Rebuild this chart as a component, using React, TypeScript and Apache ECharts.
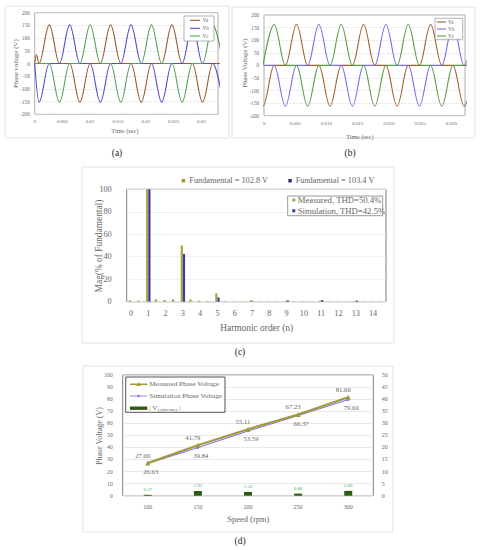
import { useEffect, useRef } from 'react';
import * as echarts from 'echarts';

const SERIF = "'Liberation Serif', 'Times New Roman', serif";
const GRAY = '#666666';

// ---------- (a) measured phase voltages: breakpoints [time (s), voltage (V)]
const vaA: number[][] = [
  [0, 0], [0.0003, 34], [0.00078, 0], [0.00262, 152], [0.00446, 0],
  [0.0063, 0], [0.00814, -152], [0.00998, 0],
  [0.01182, 0], [0.01366, 152], [0.0155, 0],
  [0.01734, 0], [0.01918, -152], [0.02102, 0],
  [0.02286, 0], [0.0247, 152], [0.02654, 0],
  [0.02838, 0], [0.03022, -152], [0.03206, 0],
  [0.0339, 0],
];
const vbA: number[][] = [
  [0, 0], [0.00078, -152], [0.00262, 0],
  [0.00446, 0], [0.0063, 152], [0.00814, 0],
  [0.00998, 0], [0.01182, -152], [0.01366, 0],
  [0.0155, 0], [0.01734, 152], [0.01918, 0],
  [0.02102, 0], [0.02286, -152], [0.0247, 0],
  [0.02654, 0], [0.02838, 152], [0.03022, 0],
  [0.03206, 0], [0.0339, -152],
];
const vcA: number[][] = [
  [0, 0], [0.00262, 0], [0.00446, -152], [0.0063, 0],
  [0.00814, 0], [0.00998, 152], [0.01182, 0],
  [0.01366, 0], [0.0155, -152], [0.01734, 0],
  [0.01918, 0], [0.02102, 152], [0.02286, 0],
  [0.0247, 0], [0.02654, -152], [0.02838, 0],
  [0.03022, 0], [0.03206, 152], [0.0339, 0],
];

// ---------- (b) simulated phase voltages
const vaB: number[][] = [
  [-0.00195, 0], [-0.00016, -162], [0.00163, 0],
  [0.00342, 0], [0.00521, 162], [0.007, 0],
  [0.00879, 0], [0.01058, -162], [0.01237, 0],
  [0.01416, 0], [0.01595, 162], [0.01774, 0],
  [0.01953, 0], [0.02132, -162], [0.02311, 0],
  [0.0249, 0], [0.02669, 162], [0.02848, 0],
  [0.03027, 0], [0.03206, -162], [0.03385, 0],
];
const vbB: number[][] = [
  [0, 0], [0.00163, 0], [0.00342, -162], [0.00521, 0],
  [0.007, 0], [0.00879, 162], [0.01058, 0],
  [0.01237, 0], [0.01416, -162], [0.01595, 0],
  [0.01774, 0], [0.01953, 162], [0.02132, 0],
  [0.02311, 0], [0.0249, -162], [0.02669, 0],
  [0.02848, 0], [0.03027, 162], [0.03206, 0],
  [0.0339, 0],
];
const vcB: number[][] = [
  [-0.00016, 0], [0.00163, 162], [0.00342, 0],
  [0.00521, 0], [0.007, -162], [0.00879, 0],
  [0.01058, 0], [0.01237, 162], [0.01416, 0],
  [0.01595, 0], [0.01774, -162], [0.01953, 0],
  [0.02132, 0], [0.02311, 162], [0.0249, 0],
  [0.02669, 0], [0.02848, -162], [0.03027, 0],
  [0.03206, 0], [0.03385, 162],
];
const phaseNames = ['Va', 'Vb', 'Vc'];

// ---------- (c) harmonic spectrum (% of fundamental)
const harmonicCats = [
  '0', '0.5', '1', '1.5', '2', '2.5', '3', '3.5', '4', '4.5', '5', '5.5', '6', '6.5', '7',
  '7.5', '8', '8.5', '9', '9.5', '10', '10.5', '11', '11.5', '12', '12.5', '13', '13.5', '14', '14.5',
];
const measuredHarm = [
  1.2, 0.9, 100, 2.1, 1.5, 2.1, 50, 2.1, 0.9, 0.6, 7.4, 0.4, 0.3, 0.3, 1.5,
  0.3, 0.3, 0.3, 0.5, 0.3, 0.3, 0.3, 1.0, 0.3, 0.3, 0.3, 0.4, 0.3, 0.3, 0.3,
];
const simHarm = [
  0, 0, 100, 0, 0, 0, 42.5, 0, 0, 0, 3.8, 0, 0, 0, 0.3,
  0, 0, 0, 1.2, 0, 0, 0, 1.4, 0, 0, 0, 1.0, 0, 0, 0,
];
const fundamentalTexts = ['Fundamental = 102.8 V', 'Fundamental = 103.4 V'];
const thdTexts = ['Measured, THD=50.4%', 'Simulation, THD=42.5%'];

// ---------- (d) phase voltage vs speed
const speeds = ['100', '150', '200', '250', '300'];
const measuredPhaseV = [27.0, 41.79, 55.11, 67.23, 81.6];
const simPhaseV = [26.63, 39.84, 53.59, 66.37, 79.6];
const diffV = [0.37, 1.95, 1.52, 0.86, 2.0];

const colA = ['#9A5A30', '#5050C8', '#5AA05A'];
const colB = ['#A0602A', '#7B6BE6', '#5A9A48'];
const GOLD = '#ADA03C';
const NAVY = '#3A3AA0';
const OLIVE = '#A09A3C';
const PURPLE = '#7B68EE';
const DKGREEN = '#2E5B12';

function txt(text: string, x: number, y: number, size: number, o: any = {}) {
  return {
    type: 'text', x, y, rotation: o.rot || 0, z: 101,
    style: {
      text, fontSize: size, fontFamily: SERIF, fill: o.color || GRAY,
      align: o.align || 'center', verticalAlign: 'middle', rich: o.rich,
    },
  };
}
function rect(x: number, y: number, w: number, h: number, fill: string, stroke: string | null, lw = 0.8, z = 100) {
  return { type: 'rect', z, shape: { x, y, width: w, height: h }, style: { fill, stroke: stroke || undefined, lineWidth: stroke ? lw : 0 } };
}
function seg(x1: number, y1: number, x2: number, y2: number, stroke: string, lw: number) {
  return { type: 'line', z: 101, shape: { x1, y1, x2, y2 }, style: { stroke, lineWidth: lw } };
}

function wave(data: number[][], color: string, idx: number, name: string) {
  return {
    type: 'line', name, xAxisIndex: idx, yAxisIndex: idx, data, showSymbol: false, symbol: 'none',
    smooth: 0.36, smoothMonotone: 'x', clip: true, silent: true,
    lineStyle: { color, width: 1.1 }, itemStyle: { color }, z: 2,
  };
}

export default function App() {
  const ref = useRef<HTMLDivElement>(null);
  useEffect(() => {
    if (!ref.current) return;
    const chart = echarts.init(ref.current, undefined, { renderer: 'svg' });
    const tickLabel = (size: number, margin: number, extra: any = {}) => ({
      fontSize: size, color: GRAY, fontFamily: SERIF, margin, ...extra,
    });
    const noLine = { show: false };

    const graphic: any[] = [
      // outer boxes
      rect(5, 6, 224, 132, 'none', '#dcdcdc', 0.8, 0),
      rect(232, 7, 243, 131, 'none', '#dcdcdc', 0.8, 0),
      rect(82, 167, 312, 176, 'none', '#dcdcdc', 0.8, 0),
      rect(83, 366, 310, 166, 'none', '#dcdcdc', 0.8, 0),
      // captions
      txt('(a)', 117, 153, 9.5, { color: '#222' }),
      txt('(b)', 350, 153, 9.5, { color: '#222' }),
      txt('(c)', 240, 352, 9.5, { color: '#222' }),
      txt('(d)', 240, 541, 9.5, { color: '#222' }),
      // axis titles
      txt('Phase voltage (V)', 15, 63.7, 6.8, { rot: Math.PI / 2 }),
      txt('Time (sec)', 125, 130.7, 6.4),
      txt('Phase Voltage (V)', 244, 63, 6.8, { rot: Math.PI / 2 }),
      txt('Time (sec)', 360, 136, 6.4),
      txt('Mag(% of Fundamental)', 98.7, 246, 9.4, { rot: Math.PI / 2 }),
      txt('Harmonic order (n)', 256.7, 328, 9.4),
      txt('Phase Voltage (V)', 99.3, 436, 8, { rot: Math.PI / 2 }),
      txt('Speed (rpm)', 248.3, 519.3, 8.5),
      // legend (a)
      rect(184, 16, 30, 25, '#fff', '#7f7f7f', 0.6),
      // legend (b)
      rect(435, 18.3, 27.7, 21, '#fff', '#7f7f7f', 0.6),
      // (c) top legend
      rect(181.7, 179, 3.5, 3.5, '#9C9A2E', null),
      txt(fundamentalTexts[0], 189.3, 180.7, 8.3, { align: 'left' }),
      rect(288.3, 179, 3.5, 3.5, '#2E2E99', null),
      txt(fundamentalTexts[1], 295.7, 180.7, 8.3, { align: 'left' }),
      // (c) inner legend
      rect(287.7, 196, 95, 19.7, '#fff', '#7f7f7f', 0.8),
      rect(292.3, 198.5, 3, 3, GOLD, null, 0, 101),
      txt(thdTexts[0], 297.7, 200.3, 8.7, { align: 'left' }),
      rect(292.3, 209.3, 3, 3, NAVY, null, 0, 101),
      txt(thdTexts[1], 297.7, 211, 8.7, { align: 'left' }),
      // (d) legend
      rect(125.7, 377, 99.3, 35.3, '#fff', '#404040', 0.9),
      seg(130, 384.3, 147.3, 384.3, OLIVE, 1.6),
      { type: 'polygon', z: 102, shape: { points: [[138.6, 382.3], [140.8, 386], [136.4, 386]] }, style: { fill: OLIVE } },
      txt('Measured Phase Voltage', 149.3, 384.3, 7.1, { align: 'left' }),
      seg(130, 396, 147.3, 396, PURPLE, 0.8),
      { type: 'circle', z: 102, shape: { cx: 138.6, cy: 396, r: 1.2 }, style: { fill: PURPLE } },
      txt('Simulation Phase Voltage', 149.3, 396, 7.1, { align: 'left' }),
      rect(130, 406.5, 17.3, 3.4, DKGREEN, null, 0, 101),
      txt('| V{s|r,sim-mea} |', 149.3, 408.3, 7.1, {
        align: 'left',
        rich: { s: { fontSize: 5, fontFamily: SERIF, fill: GRAY, padding: [3, 0, 0, 0] } },
      }),
    ];
    // legends (a)/(b) entries
    [20.3, 28.3, 36].forEach((y, i) => {
      graphic.push(seg(190, y, 200, y, colA[i], 1.1));
      graphic.push(txt(phaseNames[i], 202.5, y, 5.2, { align: 'left' }));
    });
    [22, 29, 36].forEach((y, i) => {
      graphic.push(seg(437, y, 446, y, colB[i], 1.1));
      graphic.push(txt(phaseNames[i], 448, y, 5.2, { align: 'left' }));
    });

    const option: any = {
      animation: false,
      backgroundColor: '#fff',
      textStyle: { fontFamily: SERIF },
      grid: [
        { left: 34.7, top: 12.7, width: 183.3, height: 101.6, show: true, borderColor: '#9a9a9a', borderWidth: 0.8, containLabel: false },
        { left: 264, top: 15, width: 201, height: 100.7, show: true, borderColor: '#9a9a9a', borderWidth: 0.8, containLabel: false },
        { left: 126.7, top: 189.3, width: 259.3, height: 112.4, show: true, borderColor: '#7f7f7f', borderWidth: 1, containLabel: false },
        { left: 122.7, top: 375, width: 250.6, height: 120.7, show: true, borderColor: '#7f7f7f', borderWidth: 1, containLabel: false },
      ],
      xAxis: [
        {
          type: 'value', gridIndex: 0, min: 0, max: 0.033, interval: 0.005,
          axisLine: noLine, axisTick: noLine, splitLine: noLine,
          axisLabel: tickLabel(5, 5, { showMaxLabel: false, formatter: (v: number) => String(+v.toFixed(3)) }),
        },
        {
          type: 'value', gridIndex: 1, min: 0, max: 0.0322, interval: 0.005,
          axisLine: noLine, axisTick: noLine, splitLine: noLine,
          axisLabel: tickLabel(5, 5, { showMaxLabel: false, formatter: (v: number) => (v === 0 ? '0' : v.toFixed(3)) }),
        },
        {
          type: 'category', gridIndex: 2, data: harmonicCats,
          axisLine: noLine, axisTick: noLine, splitLine: noLine,
          axisLabel: tickLabel(8.2, 8, { interval: 1 }),
        },
        {
          type: 'category', gridIndex: 3, data: speeds,
          axisLine: noLine, axisTick: noLine, splitLine: noLine,
          axisLabel: tickLabel(6, 8),
        },
      ],
      yAxis: [
        {
          type: 'value', gridIndex: 0, min: -200, max: 200, interval: 50,
          axisLine: noLine, axisTick: noLine,
          splitLine: { lineStyle: { color: '#d9d9d9', type: 'dashed', width: 0.6 } },
          axisLabel: tickLabel(5.1, 5),
        },
        {
          type: 'value', gridIndex: 1, min: -200, max: 200, interval: 50,
          axisLine: noLine, axisTick: noLine,
          splitLine: { lineStyle: { color: '#d9d9d9', type: 'dashed', width: 0.6 } },
          axisLabel: tickLabel(5.1, 5),
        },
        {
          type: 'value', gridIndex: 2, min: 0, max: 100, interval: 20,
          axisLine: noLine, axisTick: noLine,
          splitLine: { lineStyle: { color: '#ececec', width: 0.8 } },
          axisLabel: tickLabel(8.2, 15),
        },
        {
          type: 'value', gridIndex: 3, min: 0, max: 100, interval: 10,
          axisLine: noLine, axisTick: noLine,
          splitLine: { lineStyle: { color: '#e3e3e3', width: 0.8 } },
          axisLabel: tickLabel(5.6, 10),
        },
        {
          type: 'value', gridIndex: 3, position: 'right', min: 0, max: 50, interval: 5,
          axisLine: noLine, axisTick: noLine, splitLine: noLine,
          axisLabel: tickLabel(6, 8.5),
        },
      ],
      series: [
        wave(vaA, colA[0], 0, 'Va'),
        wave(vbA, colA[1], 0, 'Vb'),
        wave(vcA, colA[2], 0, 'Vc'),
        wave(vaB, colB[0], 1, 'Va'),
        wave(vbB, colB[1], 1, 'Vb'),
        wave(vcB, colB[2], 1, 'Vc'),
        {
          type: 'bar', name: 'Measured', xAxisIndex: 2, yAxisIndex: 2, data: measuredHarm,
          barWidth: 2.2, barGap: '0%', itemStyle: { color: GOLD }, silent: true,
        },
        {
          type: 'bar', name: 'Simulation', xAxisIndex: 2, yAxisIndex: 2, data: simHarm,
          barWidth: 2.2, barGap: '0%', itemStyle: { color: NAVY }, silent: true,
        },
        {
          type: 'bar', name: '|Vr,sim-mea|', xAxisIndex: 3, yAxisIndex: 4, data: diffV,
          barWidth: 8, itemStyle: { color: DKGREEN }, silent: true,
          label: {
            show: true, position: 'top', distance: 3, fontSize: 5, color: '#3DAA5C', fontFamily: SERIF,
            formatter: (p: any) => Number(p.value).toFixed(2),
          },
        },
        {
          type: 'line', name: 'Simulation Phase Voltage', xAxisIndex: 3, yAxisIndex: 3, data: simPhaseV,
          symbol: 'circle', symbolSize: 2.5, lineStyle: { color: PURPLE, width: 1 }, itemStyle: { color: PURPLE },
          silent: true, z: 3,
          label: {
            show: true, position: 'bottom', distance: 3, offset: [3, 0], fontSize: 6.7, color: GRAY, fontFamily: SERIF,
            formatter: (p: any) => Number(p.value).toFixed(2),
          },
        },
        {
          type: 'line', name: 'Measured Phase Voltage', xAxisIndex: 3, yAxisIndex: 3, data: measuredPhaseV,
          symbol: 'triangle', symbolSize: 5, lineStyle: { color: OLIVE, width: 2.2 }, itemStyle: { color: OLIVE },
          silent: true, z: 4,
          label: {
            show: true, position: 'top', distance: 2, offset: [-5, 0], fontSize: 6.7, color: GRAY, fontFamily: SERIF,
            formatter: (p: any) => Number(p.value).toFixed(2),
          },
        },
      ],
      graphic,
    };
    chart.setOption(option);
    return () => chart.dispose();
  }, []);
  return (
    <div
      ref={ref}
      style={{ position: 'absolute', left: 0, top: 0, width: 481, height: 550, background: '#fff' }}
    />
  );
}
